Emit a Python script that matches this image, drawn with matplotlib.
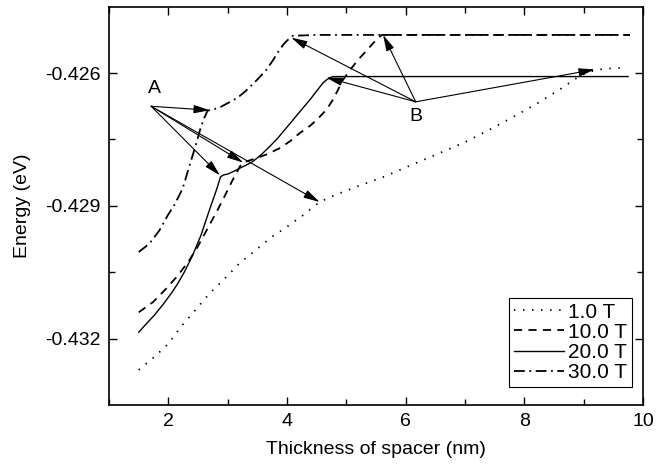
import matplotlib
matplotlib.use("Agg")
import matplotlib.pyplot as plt
from matplotlib.ticker import MultipleLocator

plt.rcParams['font.family'] = ['Liberation Sans', 'DejaVu Sans']

# 1.0 T
x_1t = [1.5, 1.76, 2.0, 2.21, 2.46, 2.69, 2.95, 3.2, 3.47, 3.73, 4.0, 4.3, 4.55,
        4.8, 5.2, 5.6, 6.0, 6.55, 7.0, 7.4, 7.8, 8.2, 8.6, 8.85, 9.0, 9.2, 9.4, 9.7]
y_1t = [-0.43270, -0.43241, -0.43211, -0.43173, -0.43134, -0.43098, -0.43064, -0.43029,
        -0.43000, -0.42971, -0.42947, -0.42918, -0.42891, -0.42876, -0.42855, -0.42836,
        -0.42813, -0.42782, -0.42756, -0.42729, -0.42700, -0.42670, -0.42637, -0.42614,
        -0.42603, -0.42593, -0.42590, -0.42588]

# 10.0 T
x_10t = [1.5, 1.74, 1.96, 2.16, 2.35, 2.49, 2.66, 2.81, 2.93, 3.0, 3.07,
         3.13, 3.19, 3.24, 3.35, 3.47, 3.67, 3.87, 4.05, 4.21, 4.4, 4.55, 4.67, 4.77,
         4.86, 4.94, 5.08, 5.22, 5.35, 5.45, 5.53, 5.6, 6.5, 7.5, 8.5, 9.78]
y_10t = [-0.43140, -0.43117, -0.43087, -0.43057, -0.43023, -0.42993, -0.42951, -0.42914,
         -0.42883, -0.42864, -0.42845, -0.42830, -0.42815, -0.42803,
         -0.42798, -0.42793, -0.42783, -0.42770, -0.42754, -0.42736, -0.42718, -0.42699,
         -0.42682, -0.42661, -0.42638, -0.42616, -0.42590, -0.42567, -0.42548, -0.42533,
         -0.42522, -0.42514, -0.42514, -0.42514, -0.42514, -0.42514]

# 20.0 T
x_20t = [1.5, 1.6, 1.76, 1.9, 2.05, 2.15, 2.27, 2.41, 2.55, 2.69, 2.81, 2.88,
         2.93, 3.0, 3.1, 3.2, 3.31, 3.42, 3.56, 3.7,
         3.85, 4.0, 4.1, 4.2, 4.3, 4.4, 4.48, 4.55, 4.61, 4.66, 4.72, 4.77, 5.5,
         6.5, 7.5, 8.5, 9.75]
y_20t = [-0.43185, -0.43170, -0.43147, -0.43124, -0.43097, -0.43077, -0.43049, -0.43011,
         -0.42966, -0.42910, -0.42864, -0.42834,
         -0.42830, -0.42828, -0.42822, -0.42815, -0.42808,
         -0.42800, -0.42785, -0.42767, -0.42746, -0.42722, -0.42706, -0.42690, -0.42674,
         -0.42658, -0.42644, -0.42632, -0.42622, -0.42616, -0.42611, -0.42608, -0.42608,
         -0.42608, -0.42608, -0.42608, -0.42608]

# 30.0 T
x_30t = [1.5, 1.68, 1.85, 1.99, 2.10, 2.24, 2.35, 2.47,
         2.55, 2.61, 2.66, 2.76, 2.86, 3.0, 3.1, 3.2, 3.3, 3.4, 3.52, 3.65, 3.76,
         3.87, 3.95, 4.0, 4.05, 4.1, 4.5, 5.5, 6.5, 7.5, 8.5, 9.78]
y_30t = [-0.43004, -0.42985, -0.42955, -0.42921, -0.42898, -0.42861, -0.42812, -0.42759,
         -0.42721, -0.42700, -0.42685,
         -0.42682, -0.42678, -0.42668, -0.42661, -0.42652, -0.42641, -0.42628, -0.42612,
         -0.42593, -0.42572, -0.42548, -0.42534, -0.42527, -0.42521, -0.42516, -0.42514,
         -0.42514, -0.42514, -0.42514, -0.42514, -0.42514]

labels = ['1.0 T', '10.0 T', '20.0 T', '30.0 T']

# arrow sources and targets
point_a = (1.71, -0.42675)
targets_a = [(2.70, -0.42684), (2.87, -0.42831), (3.26, -0.42802), (4.55, -0.42891)]
point_b = (6.17, -0.42665)
targets_b = [(4.07, -0.42520), (4.66, -0.42610), (5.62, -0.42514), (9.19, -0.42592)]

fig = plt.figure(figsize=(6.69, 4.66), dpi=100)
ax = fig.add_axes([0.163, 0.131, 0.798, 0.854])

ax.plot(x_1t, y_1t, color='k', lw=1.3, linestyle=(0, (0.8, 4.2)), label=labels[0])
ax.plot(x_10t, y_10t, color='k', lw=1.3, linestyle=(0, (4.5, 3.5)), label=labels[1])
ax.plot(x_20t, y_20t, color='k', lw=1.0, linestyle='-', label=labels[2])
ax.plot(x_30t, y_30t, color='k', lw=1.3, linestyle=(0, (6, 2.5, 1, 2.5)), label=labels[3])

arrow_props = dict(arrowstyle='-|>,head_length=0.7,head_width=0.18', color='k',
                   lw=0.8, mutation_scale=14, shrinkA=0, shrinkB=0)
for tgt in targets_a:
    ax.annotate('', xy=tgt, xytext=point_a, arrowprops=arrow_props)
for tgt in targets_b:
    ax.annotate('', xy=tgt, xytext=point_b, arrowprops=arrow_props)

ax.text(1.76, -0.42634, 'A', fontsize=14, ha='center', va='center')
ax.text(6.17, -0.42699, 'B', fontsize=14, ha='center', va='center')

ax.set_xlim(1.0, 10.0)
ax.set_ylim(-0.43349, -0.42451)
ax.xaxis.set_major_locator(MultipleLocator(2))
ax.xaxis.set_minor_locator(MultipleLocator(1))
ax.yaxis.set_minor_locator(MultipleLocator(0.0015))
ax.set_yticks([-0.432, -0.429, -0.426])
ax.set_yticklabels(['-0.432', '-0.429', '-0.426'])

ax.tick_params(which='both', direction='in', top=True, right=True, width=1.0,
               labelsize=14, pad=6)
ax.tick_params(which='major', length=6)
ax.tick_params(which='minor', length=4)
for spine in ax.spines.values():
    spine.set_linewidth(1.2)

ax.set_xlabel('Thickness of spacer (nm)', fontsize=14, labelpad=8)
ax.set_ylabel('Energy (eV)', fontsize=14, labelpad=10)

leg = ax.legend(loc='lower right', bbox_to_anchor=(0.98, 0.045), fontsize=15,
                frameon=True, fancybox=False, edgecolor='k', framealpha=1,
                handlelength=2.4, handletextpad=0.2, labelspacing=0.05,
                borderpad=0.25, borderaxespad=0)
leg.get_frame().set_linewidth(0.8)

plt.savefig("out.png", dpi=100)
